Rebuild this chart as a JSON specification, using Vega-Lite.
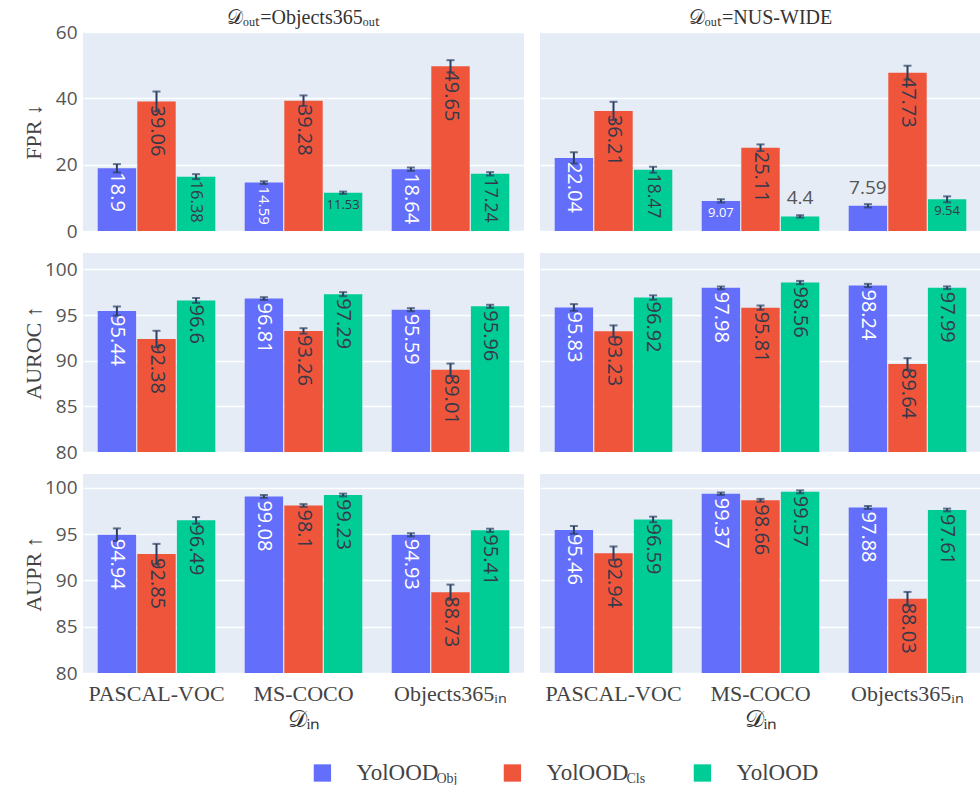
{
  "$schema": "https://vega.github.io/schema/vega-lite/v6.json",
  "padding": {"left": 22, "top": 8, "right": 0, "bottom": 0},
  "background": "white",
  "spacing": 30,
  "resolve": {"scale": {"x": "independent", "y": "independent", "xOffset": "independent"}},
  "config": {"view": {"fill": "#E5ECF6", "stroke": null}, "font": "Open Sans"},
  "datasets": {
    "d": [
      {"metric":"FPR","dout":"Objects365","din":"PASCAL-VOC","model":"YolOOD_Obj","value":18.9,"err":1.25},
      {"metric":"FPR","dout":"Objects365","din":"PASCAL-VOC","model":"YolOOD_Cls","value":39.06,"err":3.0},
      {"metric":"FPR","dout":"Objects365","din":"PASCAL-VOC","model":"YolOOD","value":16.38,"err":0.75},
      {"metric":"FPR","dout":"Objects365","din":"MS-COCO","model":"YolOOD_Obj","value":14.59,"err":0.4},
      {"metric":"FPR","dout":"Objects365","din":"MS-COCO","model":"YolOOD_Cls","value":39.28,"err":1.6},
      {"metric":"FPR","dout":"Objects365","din":"MS-COCO","model":"YolOOD","value":11.53,"err":0.35},
      {"metric":"FPR","dout":"Objects365","din":"Objects365","model":"YolOOD_Obj","value":18.64,"err":0.5},
      {"metric":"FPR","dout":"Objects365","din":"Objects365","model":"YolOOD_Cls","value":49.65,"err":1.85},
      {"metric":"FPR","dout":"Objects365","din":"Objects365","model":"YolOOD","value":17.24,"err":0.5},
      {"metric":"FPR","dout":"NUS-WIDE","din":"PASCAL-VOC","model":"YolOOD_Obj","value":22.04,"err":1.7},
      {"metric":"FPR","dout":"NUS-WIDE","din":"PASCAL-VOC","model":"YolOOD_Cls","value":36.21,"err":2.75},
      {"metric":"FPR","dout":"NUS-WIDE","din":"PASCAL-VOC","model":"YolOOD","value":18.47,"err":0.9},
      {"metric":"FPR","dout":"NUS-WIDE","din":"MS-COCO","model":"YolOOD_Obj","value":9.07,"err":0.5},
      {"metric":"FPR","dout":"NUS-WIDE","din":"MS-COCO","model":"YolOOD_Cls","value":25.11,"err":1.0},
      {"metric":"FPR","dout":"NUS-WIDE","din":"MS-COCO","model":"YolOOD","value":4.4,"err":0.35},
      {"metric":"FPR","dout":"NUS-WIDE","din":"Objects365","model":"YolOOD_Obj","value":7.59,"err":0.5},
      {"metric":"FPR","dout":"NUS-WIDE","din":"Objects365","model":"YolOOD_Cls","value":47.73,"err":2.1},
      {"metric":"FPR","dout":"NUS-WIDE","din":"Objects365","model":"YolOOD","value":9.54,"err":0.9},
      {"metric":"AUROC","dout":"Objects365","din":"PASCAL-VOC","model":"YolOOD_Obj","value":95.44,"err":0.5},
      {"metric":"AUROC","dout":"Objects365","din":"PASCAL-VOC","model":"YolOOD_Cls","value":92.38,"err":0.9},
      {"metric":"AUROC","dout":"Objects365","din":"PASCAL-VOC","model":"YolOOD","value":96.6,"err":0.27},
      {"metric":"AUROC","dout":"Objects365","din":"MS-COCO","model":"YolOOD_Obj","value":96.81,"err":0.15},
      {"metric":"AUROC","dout":"Objects365","din":"MS-COCO","model":"YolOOD_Cls","value":93.26,"err":0.3},
      {"metric":"AUROC","dout":"Objects365","din":"MS-COCO","model":"YolOOD","value":97.29,"err":0.22},
      {"metric":"AUROC","dout":"Objects365","din":"Objects365","model":"YolOOD_Obj","value":95.59,"err":0.17},
      {"metric":"AUROC","dout":"Objects365","din":"Objects365","model":"YolOOD_Cls","value":89.01,"err":0.68},
      {"metric":"AUROC","dout":"Objects365","din":"Objects365","model":"YolOOD","value":95.96,"err":0.17},
      {"metric":"AUROC","dout":"NUS-WIDE","din":"PASCAL-VOC","model":"YolOOD_Obj","value":95.83,"err":0.37},
      {"metric":"AUROC","dout":"NUS-WIDE","din":"PASCAL-VOC","model":"YolOOD_Cls","value":93.23,"err":0.64},
      {"metric":"AUROC","dout":"NUS-WIDE","din":"PASCAL-VOC","model":"YolOOD","value":96.92,"err":0.24},
      {"metric":"AUROC","dout":"NUS-WIDE","din":"MS-COCO","model":"YolOOD_Obj","value":97.98,"err":0.15},
      {"metric":"AUROC","dout":"NUS-WIDE","din":"MS-COCO","model":"YolOOD_Cls","value":95.81,"err":0.24},
      {"metric":"AUROC","dout":"NUS-WIDE","din":"MS-COCO","model":"YolOOD","value":98.56,"err":0.18},
      {"metric":"AUROC","dout":"NUS-WIDE","din":"Objects365","model":"YolOOD_Obj","value":98.24,"err":0.18},
      {"metric":"AUROC","dout":"NUS-WIDE","din":"Objects365","model":"YolOOD_Cls","value":89.64,"err":0.64},
      {"metric":"AUROC","dout":"NUS-WIDE","din":"Objects365","model":"YolOOD","value":97.99,"err":0.15},
      {"metric":"AUPR","dout":"Objects365","din":"PASCAL-VOC","model":"YolOOD_Obj","value":94.94,"err":0.68},
      {"metric":"AUPR","dout":"Objects365","din":"PASCAL-VOC","model":"YolOOD_Cls","value":92.85,"err":1.1},
      {"metric":"AUPR","dout":"Objects365","din":"PASCAL-VOC","model":"YolOOD","value":96.49,"err":0.36},
      {"metric":"AUPR","dout":"Objects365","din":"MS-COCO","model":"YolOOD_Obj","value":99.08,"err":0.15},
      {"metric":"AUPR","dout":"Objects365","din":"MS-COCO","model":"YolOOD_Cls","value":98.1,"err":0.15},
      {"metric":"AUPR","dout":"Objects365","din":"MS-COCO","model":"YolOOD","value":99.23,"err":0.15},
      {"metric":"AUPR","dout":"Objects365","din":"Objects365","model":"YolOOD_Obj","value":94.93,"err":0.17},
      {"metric":"AUPR","dout":"Objects365","din":"Objects365","model":"YolOOD_Cls","value":88.73,"err":0.82},
      {"metric":"AUPR","dout":"Objects365","din":"Objects365","model":"YolOOD","value":95.41,"err":0.18},
      {"metric":"AUPR","dout":"NUS-WIDE","din":"PASCAL-VOC","model":"YolOOD_Obj","value":95.46,"err":0.42},
      {"metric":"AUPR","dout":"NUS-WIDE","din":"PASCAL-VOC","model":"YolOOD_Cls","value":92.94,"err":0.73},
      {"metric":"AUPR","dout":"NUS-WIDE","din":"PASCAL-VOC","model":"YolOOD","value":96.59,"err":0.3},
      {"metric":"AUPR","dout":"NUS-WIDE","din":"MS-COCO","model":"YolOOD_Obj","value":99.37,"err":0.13},
      {"metric":"AUPR","dout":"NUS-WIDE","din":"MS-COCO","model":"YolOOD_Cls","value":98.66,"err":0.15},
      {"metric":"AUPR","dout":"NUS-WIDE","din":"MS-COCO","model":"YolOOD","value":99.57,"err":0.16},
      {"metric":"AUPR","dout":"NUS-WIDE","din":"Objects365","model":"YolOOD_Obj","value":97.88,"err":0.16},
      {"metric":"AUPR","dout":"NUS-WIDE","din":"Objects365","model":"YolOOD_Cls","value":88.03,"err":0.73},
      {"metric":"AUPR","dout":"NUS-WIDE","din":"Objects365","model":"YolOOD","value":97.61,"err":0.15}
    ],
    "leg": [
      {"model":"YolOOD_Obj","main":"YolOOD","sub":"Obj"},
      {"model":"YolOOD_Cls","main":"YolOOD","sub":"Cls"},
      {"model":"YolOOD","main":"YolOOD","sub":""}
    ]
  },
  "vconcat": [
    {
      "spacing": 12,
      "resolve": {"scale": {"x": "independent", "y": "independent", "xOffset": "independent"}},
      "vconcat": [
        {
          "data": {"name": "d"},
          "transform": [{"filter": "datum.metric == 'FPR'"}, {"calculate": "datum.value - datum.err", "as": "lo"}, {"calculate": "datum.value + datum.err", "as": "hi"}],
          "facet": {"column": {"field": "dout", "type": "nominal", "sort": "descending",
            "header": {"title": null, "labelFont": "Liberation Serif", "labelFontSize": 20, "labelColor": "#333", "labelPadding": 4,
              "labelExpr": "datum.value == 'NUS-WIDE' ? '𝒟ₒᵤₜ=NUS-WIDE' : '𝒟ₒᵤₜ=Objects365ₒᵤₜ'"}}},
          "spacing": 16,
          "spec": {
            "width": 441, "height": 199,
            "encoding": {
              "x": {"field": "din", "type": "nominal", "sort": ["PASCAL-VOC", "MS-COCO", "Objects365"], "scale": {"paddingInner": 0.2, "paddingOuter": 0.1}, "axis": null},
              "xOffset": {"field": "model", "type": "nominal", "sort": ["YolOOD_Obj", "YolOOD_Cls", "YolOOD"], "scale": {"paddingInner": 0.03}}
            },
            "layer": [
              {"mark": {"type": "bar", "clip": true},
               "encoding": {
                 "y": {"field": "value", "type": "quantitative", "title": "FPR ↓", "scale": {"domain": [0, 60]},
                   "axis": {"title": "FPR ↓", "titleFont": "Liberation Serif", "titleFontSize": 22, "titleFontWeight": "normal", "titleColor": "#444", "titleX": -38,
                     "values": [0, 20, 40, 60], "grid": true, "gridColor": "white", "gridWidth": 1.5, "domain": false, "ticks": false,
                     "labelFont": "Open Sans", "labelFontSize": 19, "labelColor": "#555", "labelPadding": 6}},
                 "color": {"field": "model", "type": "nominal", "scale": {"domain": ["YolOOD_Obj", "YolOOD_Cls", "YolOOD"], "range": ["#636EFA", "#EF553B", "#00CC96"]}, "legend": null}}},
              {"mark": {"type": "rule", "color": "#2a3f5f", "strokeWidth": 2},
               "encoding": {"y": {"field": "lo", "type": "quantitative", "title": "FPR ↓"}, "y2": {"field": "hi"}}},
              {"mark": {"type": "tick", "color": "#2a3f5f", "orient": "horizontal", "size": 8, "thickness": 2},
               "encoding": {"y": {"field": "lo", "type": "quantitative", "title": "FPR ↓"}}},
              {"mark": {"type": "tick", "color": "#2a3f5f", "orient": "horizontal", "size": 8, "thickness": 2},
               "encoding": {"y": {"field": "hi", "type": "quantitative", "title": "FPR ↓"}}},
              {"transform": [{"filter": "datum.value >= 12"}],
               "mark": {"type": "text", "angle": 90, "align": "left", "baseline": "middle", "dx": 4, "font": "Open Sans"},
               "encoding": {"y": {"field": "value", "type": "quantitative", "title": "FPR ↓"},
                 "text": {"field": "value", "type": "nominal"},
                 "color": {"condition": {"test": "datum.model == 'YolOOD_Obj'", "value": "white"}, "value": "#37394a"},
                 "size": {"condition": [{"test": "datum.value < 15", "value": 15}, {"test": "datum.value < 17", "value": 16.5}, {"test": "datum.value < 18.6", "value": 17.5}], "value": 20}}},
              {"transform": [{"filter": "datum.value >= 8 && datum.value < 12"}],
               "mark": {"type": "text", "align": "center", "baseline": "middle", "dy": 12, "font": "Open Sans", "fontSize": 13},
               "encoding": {"y": {"field": "value", "type": "quantitative", "title": "FPR ↓"},
                 "text": {"field": "value", "type": "nominal"},
                 "color": {"condition": {"test": "datum.model == 'YolOOD_Obj'", "value": "white"}, "value": "#37394a"}}},
              {"transform": [{"filter": "datum.value < 8"}],
               "mark": {"type": "text", "align": "center", "baseline": "bottom", "dy": -8, "font": "Open Sans", "fontSize": 19, "color": "#555"},
               "encoding": {"y": {"field": "value", "type": "quantitative", "title": "FPR ↓"},
                 "text": {"field": "value", "type": "nominal"}}}
            ]
          }
        },
        {
          "data": {"name": "d"},
          "transform": [{"filter": "datum.metric == 'AUROC'"}, {"calculate": "datum.value - datum.err", "as": "lo"}, {"calculate": "datum.value + datum.err", "as": "hi"}],
          "facet": {"column": {"field": "dout", "type": "nominal", "sort": "descending", "header": {"title": null, "labels": false}}},
          "spacing": 16,
          "spec": {
            "width": 441, "height": 199,
            "encoding": {
              "x": {"field": "din", "type": "nominal", "sort": ["PASCAL-VOC", "MS-COCO", "Objects365"], "scale": {"paddingInner": 0.2, "paddingOuter": 0.1}, "axis": null},
              "xOffset": {"field": "model", "type": "nominal", "sort": ["YolOOD_Obj", "YolOOD_Cls", "YolOOD"], "scale": {"paddingInner": 0.03}}
            },
            "layer": [
              {"mark": {"type": "bar", "clip": true},
               "encoding": {
                 "y": {"field": "value", "type": "quantitative", "title": "AUROC ↑", "scale": {"domain": [80, 101.8], "nice": false, "zero": false},
                   "axis": {"title": "AUROC ↑", "titleFont": "Liberation Serif", "titleFontSize": 22, "titleFontWeight": "normal", "titleColor": "#444", "titleX": -38,
                     "values": [80, 85, 90, 95, 100], "grid": true, "gridColor": "white", "gridWidth": 1.5, "domain": false, "ticks": false,
                     "labelFont": "Open Sans", "labelFontSize": 19, "labelColor": "#555", "labelPadding": 6}},
                 "color": {"field": "model", "type": "nominal", "scale": {"domain": ["YolOOD_Obj", "YolOOD_Cls", "YolOOD"], "range": ["#636EFA", "#EF553B", "#00CC96"]}, "legend": null}}},
              {"mark": {"type": "rule", "color": "#2a3f5f", "strokeWidth": 2},
               "encoding": {"y": {"field": "lo", "type": "quantitative", "title": "AUROC ↑"}, "y2": {"field": "hi"}}},
              {"mark": {"type": "tick", "color": "#2a3f5f", "orient": "horizontal", "size": 8, "thickness": 2},
               "encoding": {"y": {"field": "lo", "type": "quantitative", "title": "AUROC ↑"}}},
              {"mark": {"type": "tick", "color": "#2a3f5f", "orient": "horizontal", "size": 8, "thickness": 2},
               "encoding": {"y": {"field": "hi", "type": "quantitative", "title": "AUROC ↑"}}},
              {"mark": {"type": "text", "angle": 90, "align": "left", "baseline": "middle", "dx": 4, "font": "Open Sans", "fontSize": 20},
               "encoding": {"y": {"field": "value", "type": "quantitative", "title": "AUROC ↑"},
                 "text": {"field": "value", "type": "nominal"},
                 "color": {"condition": {"test": "datum.model == 'YolOOD_Obj'", "value": "white"}, "value": "#37394a"}}}
            ]
          }
        },
        {
          "data": {"name": "d"},
          "transform": [{"filter": "datum.metric == 'AUPR'"}, {"calculate": "datum.value - datum.err", "as": "lo"}, {"calculate": "datum.value + datum.err", "as": "hi"}],
          "facet": {"column": {"field": "dout", "type": "nominal", "sort": "descending", "header": {"title": null, "labels": false}}},
          "spacing": 16,
          "spec": {
            "width": 441, "height": 199,
            "encoding": {
              "x": {"field": "din", "type": "nominal", "sort": ["PASCAL-VOC", "MS-COCO", "Objects365"], "scale": {"paddingInner": 0.2, "paddingOuter": 0.1},
                "axis": {"title": "𝒟ᵢₙ", "titleFont": "Liberation Serif", "titleFontSize": 24, "titleFontWeight": "normal", "titleColor": "#333",
                  "labelFont": "Liberation Serif", "labelFontSize": 22, "labelColor": "#444", "labelAngle": 0, "labelPadding": 10, "ticks": false, "domain": false, "titlePadding": 3,
                  "labelExpr": "datum.value == 'Objects365' ? 'Objects365ᵢₙ' : datum.value"}},
              "xOffset": {"field": "model", "type": "nominal", "sort": ["YolOOD_Obj", "YolOOD_Cls", "YolOOD"], "scale": {"paddingInner": 0.03}}
            },
            "layer": [
              {"mark": {"type": "bar", "clip": true},
               "encoding": {
                 "y": {"field": "value", "type": "quantitative", "title": "AUPR ↑", "scale": {"domain": [80, 101.5], "nice": false, "zero": false},
                   "axis": {"title": "AUPR ↑", "titleFont": "Liberation Serif", "titleFontSize": 22, "titleFontWeight": "normal", "titleColor": "#444", "titleX": -38,
                     "values": [80, 85, 90, 95, 100], "grid": true, "gridColor": "white", "gridWidth": 1.5, "domain": false, "ticks": false,
                     "labelFont": "Open Sans", "labelFontSize": 19, "labelColor": "#555", "labelPadding": 6}},
                 "color": {"field": "model", "type": "nominal", "scale": {"domain": ["YolOOD_Obj", "YolOOD_Cls", "YolOOD"], "range": ["#636EFA", "#EF553B", "#00CC96"]}, "legend": null}}},
              {"mark": {"type": "rule", "color": "#2a3f5f", "strokeWidth": 2},
               "encoding": {"y": {"field": "lo", "type": "quantitative", "title": "AUPR ↑"}, "y2": {"field": "hi"}}},
              {"mark": {"type": "tick", "color": "#2a3f5f", "orient": "horizontal", "size": 8, "thickness": 2},
               "encoding": {"y": {"field": "lo", "type": "quantitative", "title": "AUPR ↑"}}},
              {"mark": {"type": "tick", "color": "#2a3f5f", "orient": "horizontal", "size": 8, "thickness": 2},
               "encoding": {"y": {"field": "hi", "type": "quantitative", "title": "AUPR ↑"}}},
              {"mark": {"type": "text", "angle": 90, "align": "left", "baseline": "middle", "dx": 4, "font": "Open Sans", "fontSize": 20},
               "encoding": {"y": {"field": "value", "type": "quantitative", "title": "AUPR ↑"},
                 "text": {"field": "value", "type": "nominal"},
                 "color": {"condition": {"test": "datum.model == 'YolOOD_Obj'", "value": "white"}, "value": "#37394a"}}}
            ]
          }
        }
      ]
    },
    {
      "data": {"name": "leg"},
      "width": 760, "height": 24,
      "view": {"fill": "white", "stroke": null},
      "encoding": {"x": {"field": "model", "type": "nominal", "sort": ["YolOOD_Obj", "YolOOD_Cls", "YolOOD"], "scale": {"type": "point", "padding": 1, "align": 0.63}, "axis": null}},
      "layer": [
        {"mark": {"type": "square", "size": 300, "opacity": 1, "filled": true},
         "encoding": {"color": {"field": "model", "type": "nominal", "scale": {"domain": ["YolOOD_Obj", "YolOOD_Cls", "YolOOD"], "range": ["#636EFA", "#EF553B", "#00CC96"]}, "legend": null}}},
        {"mark": {"type": "text", "align": "left", "baseline": "middle", "dx": 34, "font": "Liberation Serif", "fontSize": 23, "color": "#444"},
         "encoding": {"text": {"field": "main", "type": "nominal"}}},
        {"mark": {"type": "text", "align": "left", "baseline": "middle", "dx": 114, "dy": 6, "font": "Liberation Serif", "fontSize": 14, "color": "#444"},
         "encoding": {"text": {"field": "sub", "type": "nominal"}}}
      ]
    }
  ]
}
